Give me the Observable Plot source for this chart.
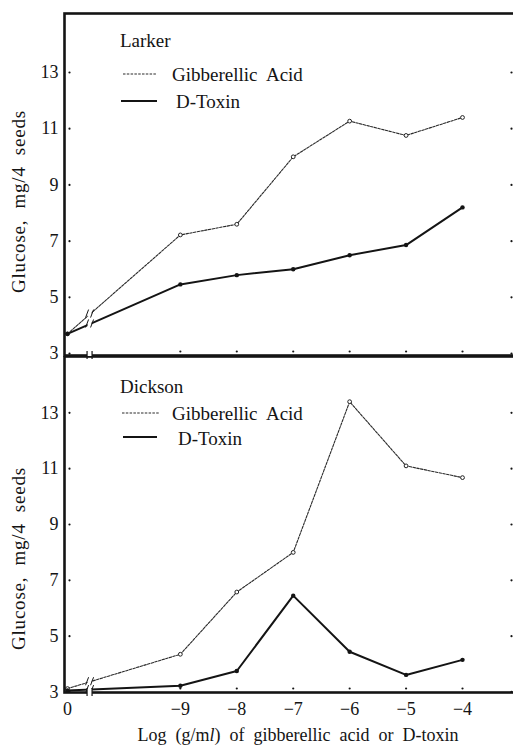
<!DOCTYPE html>
<html><head><meta charset="utf-8">
<script src="https://cdn.jsdelivr.net/npm/d3@7"></script>
<script src="https://cdn.jsdelivr.net/npm/@observablehq/plot@0.6"></script>
<style>
html,body{margin:0;padding:0;background:#fff;overflow:hidden}
#chart svg{display:block}
#chart svg text,#chart svg tspan{font-family:"Liberation Serif","Times New Roman",serif !important}
</style></head><body><div id="chart"></div>
<script>
// ---- data ----
const logConc = [0, -9, -8, -7, -6, -5, -4];            // 0 = control
const xTickLabels = ["0", "−9", "−8", "−7", "−6", "−5", "−4"];
const yTicks = [3, 5, 7, 9, 11, 13];
const larkerGA = [3.7, 7.22, 7.6, 10.0, 11.27, 10.76, 11.4];
const larkerDT = [3.7, 5.46, 5.79, 6.0, 6.5, 6.86, 8.2];
const dicksonGA = [3.12, 4.35, 6.58, 8.0, 13.4, 11.1, 10.68];
const dicksonDT = [3.05, 3.22, 3.75, 6.45, 4.44, 3.61, 4.15];
const seriesNames = ["Gibberellic  Acid", "D-Toxin"];
const panelNames = ["Larker", "Dickson"];
const yLabel = "Glucose,  mg/4  seeds";
const xLabel = "Log  (g/ml)  of  gibberellic  acid  or  D-toxin";
const controlAt = -11;   // the control (0) is drawn here on the broken axis
const breakAt = -10.6;   // axis break
const xDomain = [-11.053, -3.061];

const xPos = c => (c === 0 ? controlAt : c);
const FONT = "Liberation Serif";
const INK = "#141414";

function rows(ga, dt) {
  return logConc.flatMap((c, i) => [
    {series: seriesNames[0], x: xPos(c), y: ga[i]},
    {series: seriesNames[1], x: xPos(c), y: dt[i]}
  ]);
}

function panel({ga, dt, height, marginTop, marginBottom, yDomain, showX, labelDy, background, overflow}) {
  const data = rows(ga, dt);
  const gaRows = data.filter(d => d.series === seriesNames[0]);
  const dtRows = data.filter(d => d.series === seriesNames[1]);
  const marks = [
    Plot.line(gaRows, {x: "x", y: "y", stroke: "#2a2a2a", strokeWidth: 1.1, strokeDasharray: "2.5,1.3"}),
    Plot.line(dtRows, {x: "x", y: "y", stroke: INK, strokeWidth: 2}),
    Plot.dot(gaRows, {x: "x", y: "y", r: 1.9, stroke: "#222", fill: "white", strokeWidth: 1}),
    Plot.dot(dtRows, {x: "x", y: "y", r: 2.2, fill: INK, stroke: "none"}),
    Plot.frame({stroke: INK, strokeWidth: 2.6}),
    // tick dots (inside ticks)
    Plot.dot(yTicks, {x: () => xDomain[0], y: d => d, dx: 5, r: 1.1, fill: INK, stroke: "none"}),
    Plot.dot(yTicks, {x: () => xDomain[1], y: d => d, dx: -4, r: 1.1, fill: INK, stroke: "none"}),
    Plot.dot(logConc.slice(1), {x: xPos, y: () => yDomain[0], dy: -4, r: 1.1, fill: INK, stroke: "none"}),
    // y tick labels
    Plot.text(yTicks, {y: d => d, frameAnchor: "left", dx: -6, textAnchor: "end", text: d => String(d), fontSize: 18, fill: INK}),
    // y label
    Plot.text([yLabel], {frameAnchor: "left", textAnchor: "middle", rotate: -90, dx: -46, dy: labelDy, text: d => d, fontSize: 19, fill: INK})
  ];
  if (showX) {
    marks.push(
      Plot.text(logConc, {x: xPos, frameAnchor: "bottom", dy: 22, text: (d, i) => xTickLabels[i], fontSize: 18, fill: INK}),
      Plot.text([xLabel], {frameAnchor: "bottom", textAnchor: "middle", dy: 48, dx: 8, text: d => d, fontSize: 18, fill: INK})
    );
  }
  const chart = Plot.plot({
    width: 513,
    height,
    marginLeft: 64,
    marginRight: -2,
    marginTop,
    marginBottom,
    x: {domain: xDomain, axis: null},
    y: {domain: yDomain, axis: null},
    style: {fontFamily: FONT, fontSize: "18px", color: INK, background, overflow},
    marks
  });

  // axis break and line breaks, placed through the chart's own scales
  const sx = chart.scale("x"), sy = chart.scale("y");
  const px = sx.apply(breakAt);
  const base = sy.apply(yDomain[0]);
  const g = d3.select(chart).append("g");
  const interp = arr => {
    const x0 = xPos(logConc[0]), x1 = xPos(logConc[1]);
    const t = (breakAt - x0) / (x1 - x0);
    return arr[0] + t * (arr[1] - arr[0]);
  };
  [interp(ga), interp(dt)].forEach(v => {
    const py = sy.apply(v);
    g.append("rect").attr("x", px - 2).attr("y", py - 3).attr("width", 4).attr("height", 6).attr("fill", "white");
    [-2.5, 2.5].forEach(o => g.append("line")
      .attr("x1", px + o - 1.5).attr("x2", px + o + 1.5).attr("y1", py + 4).attr("y2", py - 4)
      .attr("stroke", INK).attr("stroke-width", 1));
  });
  g.append("rect").attr("x", px - 2.5).attr("y", base - 3).attr("width", 5).attr("height", 6).attr("fill", "white");
  [-2.5, 2.5].forEach(o => g.append("line")
    .attr("x1", px + o).attr("x2", px + o).attr("y1", base - 4).attr("y2", base + 4)
    .attr("stroke", INK).attr("stroke-width", 1.2));
  return chart;
}

function addLegend(svg, name, items) {
  const g = d3.select(svg).append("g").attr("fill", INK).attr("text-anchor", "start");
  g.append("text").attr("x", 120).attr("y", items.title).attr("font-size", 19).text(name);
  items.rows.forEach((r, i) => {
    g.append("line").attr("x1", r.x1).attr("x2", r.x2).attr("y1", r.ly).attr("y2", r.ly)
      .attr("stroke", i === 0 ? "#2a2a2a" : INK)
      .attr("stroke-width", i === 0 ? 1.2 : 2)
      .attr("stroke-dasharray", i === 0 ? "2.5,1.3" : null);
    g.append("text").attr("x", r.tx).attr("y", r.ty).attr("font-size", 19).text(seriesNames[i]);
  });
}

const topChart = panel({ga: larkerGA, dt: larkerDT, height: 356, marginTop: 13, marginBottom: 1,
  yDomain: [2.93, 15.1], showX: false, labelDy: 17, background: "white", overflow: "visible"});
const bottomChart = panel({ga: dicksonGA, dt: dicksonDT, height: 395, marginTop: 0, marginBottom: 59,
  yDomain: [2.98, 15.02], showX: true, labelDy: 34, background: "transparent", overflow: "hidden"});

addLegend(topChart, panelNames[0], {title: 47, rows: [
  {x1: 123, x2: 157, ly: 74, tx: 172, ty: 81},
  {x1: 121, x2: 157, ly: 101, tx: 176, ty: 108}]});
addLegend(bottomChart, panelNames[1], {title: 37, rows: [
  {x1: 122, x2: 160, ly: 57, tx: 172, ty: 64},
  {x1: 123, x2: 157, ly: 81, tx: 178, ty: 89}]});

// italic "l" in g/ml
d3.select(bottomChart).selectAll("text").filter(function() { return this.textContent === xLabel; })
  .each(function() {
    const t = d3.select(this);
    t.text(null);
    t.append("tspan").text("Log  (g/m");
    t.append("tspan").attr("font-style", "italic").text("l");
    t.append("tspan").text(")  of  gibberellic  acid  or  D-toxin");
  });

const host = document.getElementById("chart");
host.append(topChart, bottomChart);
d3.select(host).selectAll("text").style("font-family", "'Liberation Serif', serif");
d3.select(host).selectAll("text").filter(function() { return this.textContent === yLabel; })
  .style("letter-spacing", "0.8px");
</script>
</body></html>
